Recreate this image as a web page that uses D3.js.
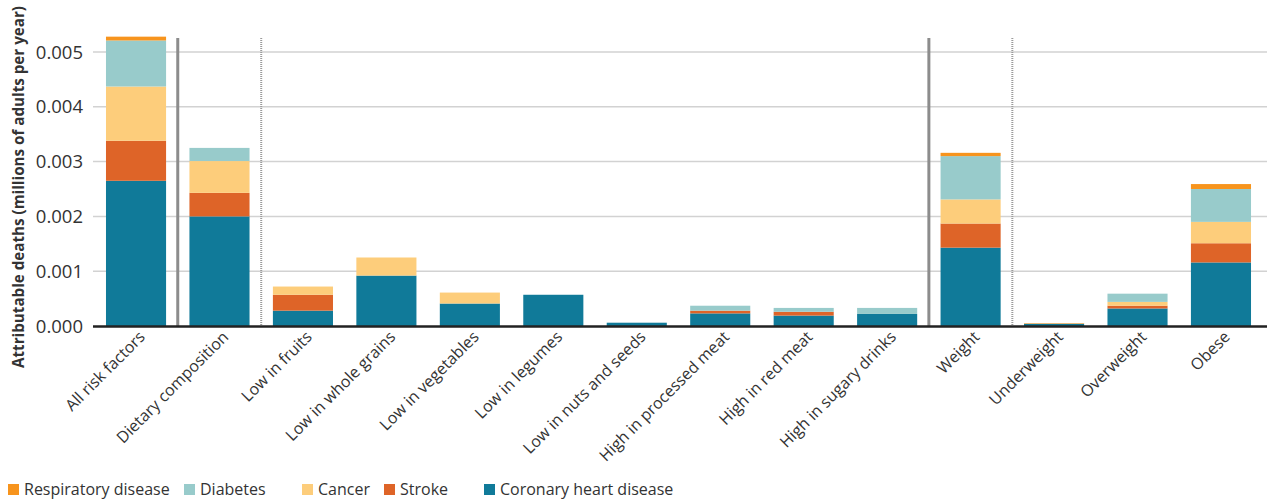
<!DOCTYPE html>
<html><head><meta charset="utf-8">
<script src="https://cdn.jsdelivr.net/npm/d3@7"></script>
<style>
body{margin:0;background:#fff;}
text{font-family:"Open Sans","Noto Sans",sans-serif;fill:#333;}
</style></head>
<body><svg id="c" width="1267" height="499"></svg>
<script>
const categories = ["All risk factors","Dietary composition","Low in fruits","Low in whole grains","Low in vegetables","Low in legumes","Low in nuts and seeds","High in processed meat","High in red meat","High in sugary drinks","Weight","Underweight","Overweight","Obese"];
const seriesNames = ["Coronary heart disease","Stroke","Cancer","Diabetes","Respiratory disease"];
const coronary    = [0.00265,0.00200,0.00028,0.00092,0.00041,0.00057,0.00006,0.00023,0.00019,0.00022,0.00143,0.00004,0.00032,0.00116];
const stroke      = [0.00073,0.00043,0.00029,0,0,0,0,0.00005,0.00007,0,0.00044,0,0.00005,0.00035];
const cancer      = [0.00099,0.00058,0.00015,0.00033,0.00020,0,0,0,0,0,0.00044,0,0.00007,0.00039];
const diabetes    = [0.00084,0.00024,0,0,0,0,0,0.00009,0.00007,0.00011,0.00079,0,0.00015,0.00060];
const respiratory = [0.00007,0,0,0,0,0,0,0,0,0,0.00006,0.00001,0,0.00009];
const yTicks = [0,0.001,0.002,0.003,0.004,0.005];
const legendOrder = ["Respiratory disease","Diabetes","Cancer","Stroke","Coronary heart disease"];
const solidSeparators = [0, 9];   // after category index
const dottedSeparators = [1, 10];

const colors = {"Coronary heart disease":"#107a99","Stroke":"#de6428","Cancer":"#fdcd7b","Diabetes":"#98cbcb","Respiratory disease":"#f7941d"};
const seriesData = {"Coronary heart disease":coronary,"Stroke":stroke,"Cancer":cancer,"Diabetes":diabetes,"Respiratory disease":respiratory};

const rows = categories.map((c,i)=>{const r={cat:c}; seriesNames.forEach(s=>r[s]=seriesData[s][i]); return r;});
const stack = d3.stack().keys(seriesNames)(rows);

const svg = d3.select("#c");
const x = d3.scaleBand().domain(categories).range([94.3,1262.7]).paddingInner(0.28).paddingOuter(0.14);
const y = d3.scaleLinear().domain([0,0.005]).range([326,52]);
const step = x.step();

// gridlines
svg.append("g").selectAll("line").data(yTicks.filter(t=>t>0)).join("line")
  .attr("x1",93).attr("x2",1267).attr("y1",d=>y(d)).attr("y2",d=>y(d))
  .attr("stroke","#d2d2d2").attr("stroke-width",1.5);

// y tick labels
svg.append("g").selectAll("text").data(yTicks).join("text")
  .attr("x",83).attr("y",d=>y(d)).attr("dy","0.36em").attr("text-anchor","end")
  .style("font-size","18.5px").text(d=>d3.format(".3f")(d));

// y title
svg.append("text").attr("transform","translate(24,187) rotate(-90)").attr("text-anchor","middle")
  .style("font-size","15.2px").style("font-weight","bold").text("Attributable deaths (millions of adults per year)");

// bars
svg.append("g").selectAll("g").data(stack).join("g").attr("fill",d=>colors[d.key])
  .selectAll("rect").data(d=>d).join("rect")
  .attr("x",d=>x(d.data.cat)).attr("width",x.bandwidth())
  .attr("y",d=>y(d[1])).attr("height",d=>Math.max(0,y(d[0])-y(d[1])));

// separators
const bx = i => x(categories[i]) + x.bandwidth() + (step - x.bandwidth())/2;
svg.append("g").selectAll("line").data(solidSeparators).join("line")
  .attr("x1",d=>bx(d)).attr("x2",d=>bx(d)).attr("y1",38).attr("y2",326)
  .attr("stroke","#8c8c8c").attr("stroke-width",3);
svg.append("g").selectAll("line").data(dottedSeparators).join("line")
  .attr("x1",d=>bx(d)).attr("x2",d=>bx(d)).attr("y1",38).attr("y2",326)
  .attr("stroke","#9a9a9a").attr("stroke-width",2).attr("stroke-dasharray","1,1");

// baseline
svg.append("line").attr("x1",93).attr("x2",1267).attr("y1",y(0)+0.5).attr("y2",y(0)+0.5)
  .attr("stroke","#222").attr("stroke-width",2.5);

// x labels
svg.append("g").selectAll("text").data(categories).join("text")
  .attr("transform",d=>`translate(${x(d)+x.bandwidth()/2+6},${334}) rotate(-45)`)
  .attr("text-anchor","end").attr("dy","0.35em").style("font-size","16px").text(d=>d);

// legend
const legX = [8,184,302,384,484];
const lg = svg.append("g").selectAll("g").data(legendOrder).join("g")
  .attr("transform",(d,i)=>`translate(${legX[i]},489)`);
lg.append("rect").attr("x",0).attr("y",-5).attr("width",11).attr("height",11).attr("fill",d=>colors[d]);
lg.append("text").attr("x",16).attr("y",0).attr("dy","0.35em").style("font-size","16px").text(d=>d);
</script></body></html>
